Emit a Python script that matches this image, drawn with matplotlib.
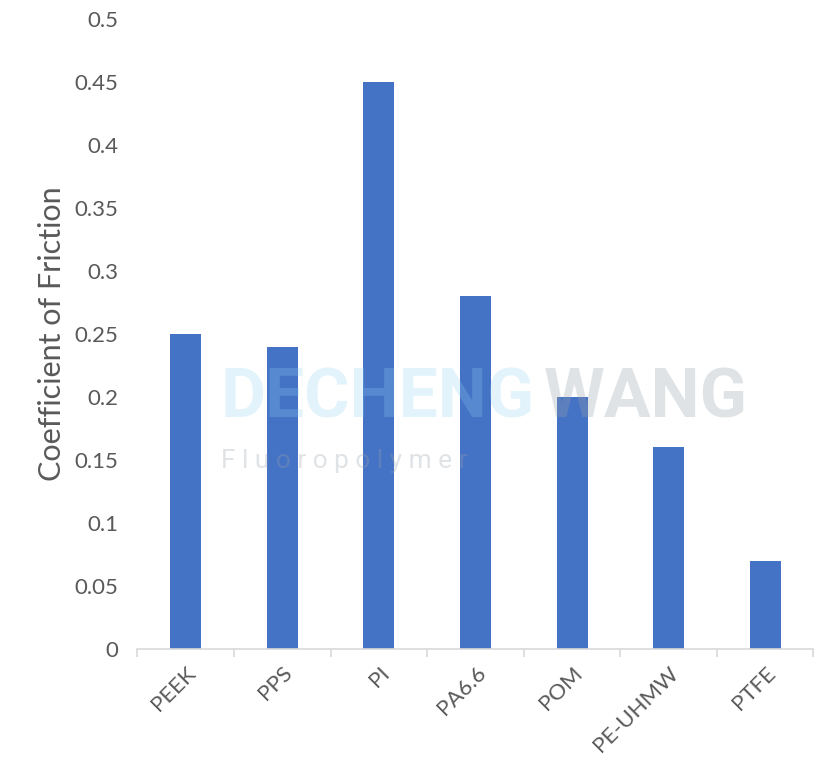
import matplotlib
matplotlib.use("Agg")
import matplotlib.pyplot as plt

materials = ["PEEK", "PPS", "PI", "PA6.6", "POM", "PE-UHMW", "PTFE"]
friction = [0.25, 0.24, 0.45, 0.28, 0.20, 0.16, 0.07]
y_ticks = [0, 0.05, 0.1, 0.15, 0.2, 0.25, 0.3, 0.35, 0.4, 0.45, 0.5]
y_tick_labels = ["0", "0.05", "0.1", "0.15", "0.2", "0.25", "0.3", "0.35", "0.4", "0.45", "0.5"]

W, H = 829, 766
fig = plt.figure(figsize=(W / 100, H / 100), dpi=100)
ax = fig.add_axes([137.5 / W, 1 - 649 / H, 676 / W, 630 / H])

text_color = "#595959"
font = ["Lato", "DejaVu Sans"]

x = list(range(len(materials)))
ax.bar(x, friction, width=0.32, color="#4472C4", zorder=2)

ax.set_xlim(-0.5, len(materials) - 0.5)
ax.set_ylim(0, 0.5)
ax.set_yticks(y_ticks)
ax.set_yticklabels(y_tick_labels, family=font, fontsize=16, color=text_color)
ax.set_xticks(x)
ax.set_xticklabels(materials, rotation=45, ha="right", rotation_mode="anchor",
                   family=font, fontsize=16, color=text_color)
# category separator ticks on the x axis
ax.set_xticks([i - 0.5 for i in range(len(materials) + 1)], minor=True)
ax.tick_params(axis="x", which="major", length=0, pad=10)
ax.tick_params(axis="x", which="minor", length=6, color="#d9d9d9", width=1.2)
ax.tick_params(axis="y", length=0, pad=14)

for side in ["top", "right", "left"]:
    ax.spines[side].set_visible(False)
ax.spines["bottom"].set_color("#d9d9d9")
ax.spines["bottom"].set_linewidth(1.2)

ax.set_ylabel("Coefficient of Friction", family=font, fontsize=22, color=text_color,
              labelpad=6)

# watermark
fig.text(221 / W, 1 - 418 / H, "DECHENG", family="Roboto", fontweight="bold", fontsize=50,
         color="#8fd0f5", alpha=0.25, zorder=5)
fig.text(544 / W, 1 - 418 / H, "WANG", family="Roboto", fontweight="bold", fontsize=50,
         color="#9aa3ad", alpha=0.3, zorder=5)
fig.text(221 / W, 1 - 468 / H, "F l u o r o p o l y m e r", family="Roboto", fontsize=19,
         color="#9aa3ad", alpha=0.3, zorder=5)

fig.savefig("out.png", dpi=100)
